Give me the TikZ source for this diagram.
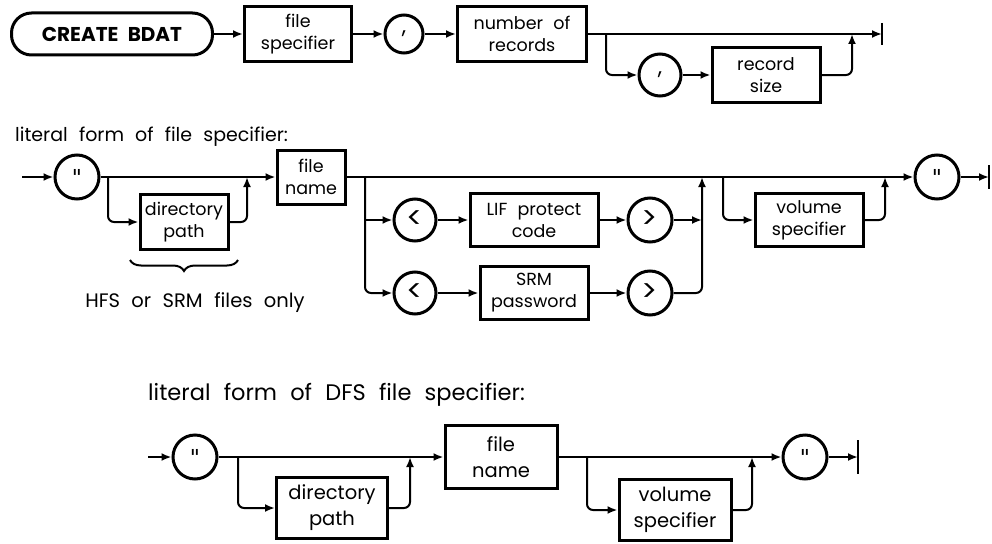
\documentclass[tikz,border=0pt]{standalone}
\usepackage{fontspec}
\setmainfont{Poppins}[WordSpace=2.2]
\newfontfamily\quotefont{DejaVu Sans}
\usetikzlibrary{arrows.meta,decorations.pathreplacing}

\newcommand{\smallitem}{\fontsize{17.5}{22}\selectfont}
\newcommand{\bigitem}{\fontsize{19.5}{26}\selectfont}
\newcommand{\symb}{\fontsize{22}{22}\selectfont}
\newcommand{\angl}{\fontsize{30}{30}\selectfont}

\tikzset{
  flow/.style={line width=2pt,rounded corners=6pt,-{Latex[length=10pt,width=8pt]}},
  stopbar/.style={line width=2.6pt},
  item/.style={draw,line width=3pt,align=center,inner sep=0pt,font=\smallitem},
  lit/.style={draw,circle,line width=3pt,inner sep=0pt,minimum size=42pt,font=\symb},
  note/.style={anchor=west,inner sep=0pt,font=\fontsize{19}{24}\selectfont},
}

\begin{document}
\begin{tikzpicture}[x=1pt,y=-1pt]
  \useasboundingbox (0,0) rectangle (992,543);

  % CREATE BDAT statement
  \node[draw,line width=3pt,rounded corners=20pt,minimum width=201pt,minimum height=42pt,
    font=\fontsize{20}{24}\selectfont\bfseries] (create) at (112,34) {CREATE BDAT};
  \node[item,minimum width=107pt,minimum height=54pt] (filespec) at (298,34) {file\\specifier};
  \node[lit,minimum size=38pt] (comma) at (404,34) {,};
  \node[item,minimum width=129pt,minimum height=54pt] (numrec) at (522,34) {number of\\records};
  \node[lit] (comma2) at (660,75) {,};
  \node[item,minimum width=108pt,minimum height=54pt] (recsize) at (766,75) {record\\size};
  \coordinate (split1) at (606,34);
  \coordinate (join1) at (852,34);
  \coordinate (end1) at (882,34);

  \draw[flow] (create) -- (filespec);
  \draw[flow] (filespec) -- (comma);
  \draw[flow] (comma) -- (numrec);
  \draw[flow] (numrec) -- (end1);
  \draw[stopbar] (end1) ++(0,-11) -- ++(0,22);
  \draw[flow] (split1) |- (comma2);
  \draw[flow] (comma2) -- (recsize);
  \draw[flow] (recsize) -| (join1);

  % literal form of file specifier
  \node[note] (label2) at (15,137) {literal form of file specifier:};
  \coordinate (start2) at (22,177);
  \node[lit,minimum size=44pt] (quote1) at (77,177) {\quotefont"};
  \node[item,minimum width=88pt,minimum height=55pt] (dirpath) at (184,222) {directory\\path};
  \node[item,minimum width=68pt,minimum height=54pt] (filename) at (311,177) {file\\name};
  \coordinate (split2a) at (108,177);
  \coordinate (join2a) at (247,177);
  \coordinate (braceL) at (130,260);
  \coordinate (braceR) at (238,260);
  \node[inner sep=0pt,font=\fontsize{19.5}{22}\selectfont] (hfsnote) at (195,303) {HFS or SRM files only};

  \draw[flow] (start2) -- (quote1);
  \draw[flow] (quote1) -- (filename);
  \draw[flow] (split2a) |- (dirpath);
  \draw[flow] (dirpath) -| (join2a);
  \draw[line width=2pt,decorate,decoration={brace,mirror,amplitude=11pt}] (braceL) -- (braceR);

  \node[lit,font=\angl] (lt1) at (415,220) {<};
  \node[item,minimum width=128pt,minimum height=53pt] (lifcode) at (534,220) {LIF protect\\code};
  \node[lit,font=\angl,minimum size=44pt] (gt1) at (650,220) {>};
  \node[lit,font=\angl] (lt2) at (415,293) {<};
  \node[item,minimum width=108pt,minimum height=53pt] (srmpass) at (534,293) {SRM\\password};
  \node[lit,font=\angl,minimum size=44pt] (gt2) at (650,293) {>};
  \coordinate (split2b) at (365,177);
  \coordinate (join2b) at (702,177);

  \draw[flow] (split2b |- lt1) -- (lt1);
  \draw[flow] (lt1) -- (lifcode);
  \draw[flow] (lifcode) -- (gt1);
  \draw[flow] (gt1) -- (gt1 -| join2b);
  \draw[flow] (split2b) |- (lt2);
  \draw[flow] (lt2) -- (srmpass);
  \draw[flow] (srmpass) -- (gt2);
  \draw[flow] (gt2) -| (join2b);

  \node[item,minimum width=108pt,minimum height=53pt] (volspec) at (809,220) {volume\\specifier};
  \node[lit,minimum size=44pt] (quote2) at (937,177) {\quotefont"};
  \coordinate (split2c) at (723,177);
  \coordinate (join2c) at (885,177);
  \coordinate (end2) at (989,177);

  \draw[flow] (filename) -- (quote2);
  \draw[flow] (split2c) |- (volspec);
  \draw[flow] (volspec) -| (join2c);
  \draw[flow] (quote2) -- (end2);
  \draw[stopbar] (end2) ++(0,-12) -- ++(0,24);

  % literal form of DFS file specifier
  \node[note,font=\fontsize{22.5}{26}\selectfont] (label3) at (148,395) {literal form of DFS file specifier:};
  \coordinate (start3) at (148,457);
  \node[lit,minimum size=44pt] (quote3) at (195,457) {\quotefont"};
  \node[item,font=\bigitem,minimum width=111pt,minimum height=61pt] (dirpath3) at (332,508) {directory\\path};
  \node[item,font=\bigitem,minimum width=112pt,minimum height=63pt] (filename3) at (501,457) {file\\name};
  \node[item,font=\bigitem,minimum width=112pt,minimum height=61pt] (volspec3) at (675,510) {volume\\specifier};
  \node[lit,minimum size=44pt] (quote4) at (805,457) {\quotefont"};
  \coordinate (split3a) at (238,457);
  \coordinate (join3a) at (410,457);
  \coordinate (split3b) at (587,457);
  \coordinate (join3b) at (752,457);
  \coordinate (end3) at (858,457);

  \draw[flow] (start3) -- (quote3);
  \draw[flow] (quote3) -- (filename3);
  \draw[flow] (split3a) |- (dirpath3);
  \draw[flow] (dirpath3) -| (join3a);
  \draw[flow] (filename3) -- (quote4);
  \draw[flow] (split3b) |- (volspec3);
  \draw[flow] (volspec3) -| (join3b);
  \draw[flow] (quote4) -- (end3);
  \draw[stopbar] (end3) ++(0,-17) -- ++(0,34);
\end{tikzpicture}
\end{document}
